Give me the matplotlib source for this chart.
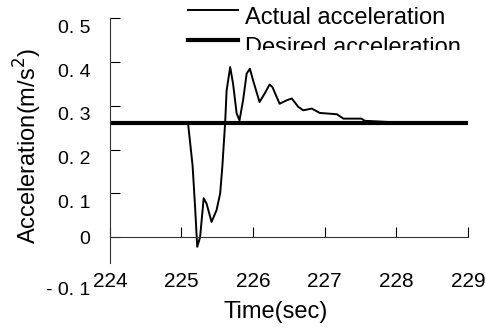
import numpy as np
import matplotlib
matplotlib.use("Agg")
import matplotlib.pyplot as plt
from matplotlib.transforms import ScaledTranslation, Bbox, TransformedBbox

plt.rcParams["font.family"] = ["Liberation Sans", "DejaVu Sans"]

# Actual acceleration trace
t_actual = [224.0, 225.09, 225.155, 225.19, 225.22, 225.26, 225.31, 225.35,
            225.42, 225.49, 225.54, 225.57, 225.61, 225.63, 225.68, 225.72,
            225.77, 225.81, 225.86, 225.91, 225.955, 226.0, 226.09, 226.16,
            226.23, 226.27, 226.37, 226.47, 226.54, 226.63, 226.70, 226.82,
            226.93, 227.17, 227.26, 227.51, 227.56, 228.05, 229.0]
a_actual = [0.262, 0.263, 0.164, 0.069, -0.022, 0.0, 0.089, 0.077,
            0.035, 0.062, 0.10, 0.16, 0.263, 0.335, 0.389, 0.351,
            0.283, 0.267, 0.313, 0.374, 0.385, 0.358, 0.309, 0.328,
            0.349, 0.343, 0.305, 0.313, 0.317, 0.298, 0.29, 0.294,
            0.284, 0.281, 0.271, 0.271, 0.266, 0.262, 0.262]

# Desired acceleration (constant)
t_desired = [224.0, 229.0]
a_desired = [0.262, 0.262]

x_ticks = [224, 225, 226, 227, 228, 229]
y_ticks = [-0.1, 0, 0.1, 0.2, 0.3, 0.4, 0.5]
y_tick_labels = ["- 0. 1", "0", "0. 1", "0. 2", "0. 3", "0. 4", "0. 5"]

fig = plt.figure(figsize=(4.86, 3.29), dpi=100)
ax = fig.add_axes([0.226, 0.146, 0.737, 0.798])

l1, = ax.plot(t_actual, a_actual, color="black", linewidth=1.4)
l2, = ax.plot(t_desired, a_desired, color="black", linewidth=3)

ax.set_xlim(224, 229)
ax.set_ylim(-0.1, 0.5)

ax.spines["top"].set_visible(False)
ax.spines["right"].set_visible(False)
ax.spines["bottom"].set_position(("data", 0))
ax.spines["left"].set_bounds(-0.06, 0.5)
for s in ["bottom", "left"]:
    ax.spines[s].set_linewidth(0.8)
    ax.spines[s].set_color("#333333")

ax.set_xticks(x_ticks)
ax.set_yticks(y_ticks)
ax.set_yticklabels(y_tick_labels)
ax.tick_params(axis="x", direction="in", length=7, pad=25, labelsize=15)
ax.tick_params(axis="y", direction="in", length=7, pad=14, labelsize=14)
ax.yaxis.get_major_ticks()[0].tick1line.set_visible(False)

# tick labels sit a little below their ticks in the original
shift = ScaledTranslation(0, -0.08, fig.dpi_scale_trans)
for lbl, txt in zip(ax.get_yticklabels(), y_tick_labels):
    if txt != "0":
        lbl.set_transform(lbl.get_transform() + shift)

ax.set_xlabel("Time(sec)", fontsize=17)
ax.xaxis.set_label_coords(0.464, -0.075)
ax.set_ylabel("Acceleration(m/s$^2$)", fontsize=17)
ax.yaxis.set_label_coords(-0.185, 0.514)

leg = fig.legend([l1, l2], ["Actual acceleration", "Desired acceleration"],
                 loc="upper left", bbox_to_anchor=(188 / 486, 1 - 1 / 329),
                 frameon=False, fontsize=17, handlelength=2.1,
                 handletextpad=0.3, labelspacing=0.33, borderpad=0,
                 borderaxespad=0)

# legend text sits below its line, and row two is cut off at the bottom
tshift = ScaledTranslation(0, -0.065, fig.dpi_scale_trans)
clip = TransformedBbox(Bbox([[0, 1 - 50 / 329], [1, 1]]), fig.transFigure)
for t in leg.get_texts():
    t.set_transform(t.get_transform() + tshift)
    t.set_clip_box(clip)
    t.set_clip_on(True)

fig.savefig("out.png", dpi=100)
